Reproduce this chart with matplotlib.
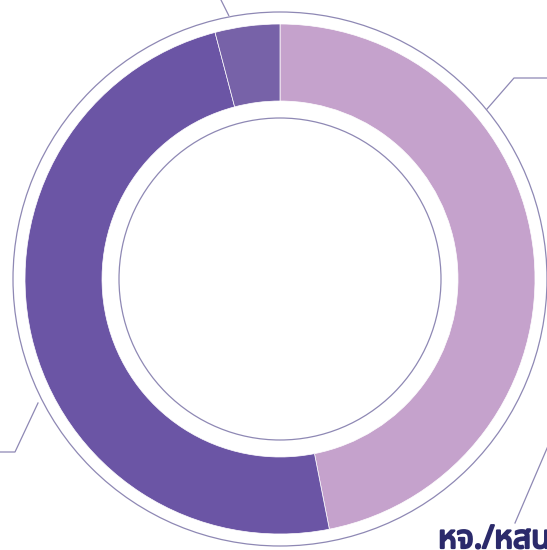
import matplotlib
matplotlib.use("Agg")
import matplotlib.pyplot as plt
import matplotlib.patheffects as pe
from matplotlib import font_manager, ft2font
from matplotlib.patches import Circle

# Data
categories = ["ส่วนที่ 1", "ส่วนที่ 2", "ส่วนที่ 3"]
values = [46.9, 49.0, 4.1]
colors = ["#C5A2CC", "#6B55A5", "#7762A8"]
label_text = "หจ./หสน"

# find a font family with Thai glyphs
cands = []
for f in font_manager.fontManager.ttflist:
    try:
        ft = ft2font.FT2Font(f.fname)
        if ft.get_char_index(ord("ห")) != 0:
            cands.append(f)
    except Exception:
        pass

def score(f):
    name = f.name.lower()
    s = 0
    if "noto sans thai" in name and "looped" not in name:
        s += 10
    elif "noto sans" in name:
        s += 5
    if "ui" in name.split():
        s -= 1
    return s

thai_family = max(cands, key=score).name if cands else None
families = ([thai_family] if thai_family else []) + ["DejaVu Sans"]

W, H = 547, 550
fig = plt.figure(figsize=(W / 100, H / 100), dpi=100)
ax = fig.add_axes([0, 0, 1, 1])

cx, cy = 280, 271
r_out, r_in = 255, 178
line_col = "#8E88B4"
text_col = "#2B2A6B"

ax.pie(values, colors=colors, startangle=90, counterclock=False,
       radius=r_out, center=(cx, cy), frame=True,
       wedgeprops=dict(width=r_out - r_in, edgecolor="white", linewidth=0.5))
ax.set_xlim(0, W)
ax.set_ylim(0, H)
ax.set_aspect("equal")
ax.axis("off")

ax.add_patch(Circle((cx, cy), 267, fill=False, edgecolor=line_col, linewidth=0.9))
ax.add_patch(Circle((cx, cy), 161, fill=False, edgecolor=line_col, linewidth=0.9))

def yy(y):
    return H - y

# leader lines
ax.plot([229, 220], [yy(16), yy(-2)], color=line_col, lw=0.9, solid_capstyle="butt")
ax.plot([487, 514, 550], [yy(109), yy(78), yy(78)], color=line_col, lw=0.9)
ax.plot([38, 15, -3], [yy(403), yy(452), yy(452)], color=line_col, lw=0.9)
ax.plot([515, 560], [yy(523), yy(418)], color=line_col, lw=0.9)

ax.text(438, yy(548), label_text, color=text_col, ha="left", va="baseline",
        family=families, fontsize=23, fontweight="bold",
        path_effects=[pe.withStroke(linewidth=1.6, foreground=text_col)])

fig.savefig("out.png", dpi=100)
